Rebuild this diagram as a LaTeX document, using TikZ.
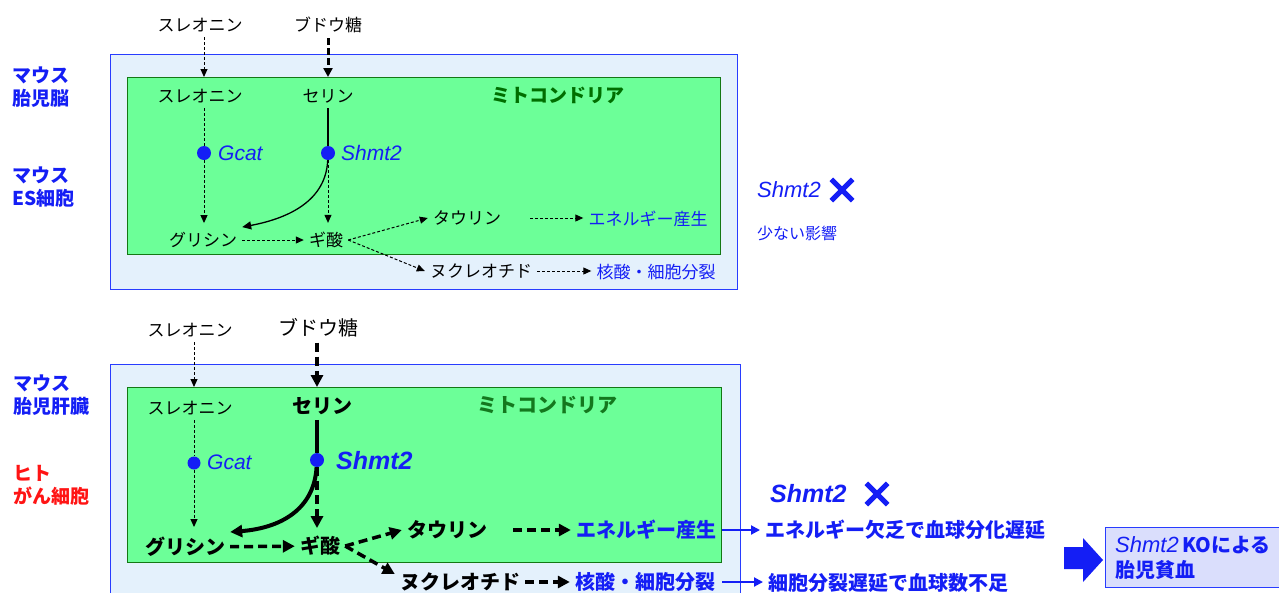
\documentclass[tikz,border=0pt]{standalone}
\usepackage{fontspec}
\setmainfont{Noto Sans CJK JP}
\newfontfamily\hv{Liberation Sans}
\usetikzlibrary{arrows.meta}
\definecolor{tblue}{RGB}{20,30,245}
\definecolor{boxblue}{RGB}{40,60,255}
\definecolor{lightbg}{RGB}{228,241,252}
\definecolor{mitogreen}{RGB}{108,255,152}
\definecolor{mitoedge}{RGB}{20,120,20}
\definecolor{mitotext}{RGB}{0,110,0}
\definecolor{mitotextB}{RGB}{20,120,30}
\definecolor{lav}{RGB}{218,222,252}
\definecolor{tred}{RGB}{255,20,20}
\tikzset{
  txt/.style={inner sep=5pt, font=\fontsize{17}{20}\selectfont},
  txtL/.style={inner sep=5pt, font=\fontsize{20}{24}\selectfont},
  txtB/.style={inner sep=5pt, font=\bfseries\fontsize{20}{24}\selectfont},
  side/.style={inner sep=0pt, anchor=west, font=\bfseries\fontsize{19}{22}\selectfont, text=tblue},
  outerbox/.style={draw=boxblue, fill=lightbg, line width=1.3pt, anchor=north west, inner sep=0},
  greenbox/.style={draw=mitoedge, fill=mitogreen, line width=1.2pt, anchor=north west, inner sep=0},
  dot/.style={circle, fill=tblue, inner sep=0, minimum size=14pt},
  tdash/.style={line width=1pt, dash pattern=on 3pt off 2pt, -{Triangle[length=8pt,width=7pt]}},
  tdashplain/.style={line width=1pt, dash pattern=on 3pt off 2pt},
  mdash/.style={line width=3pt, dash pattern=on 7pt off 3pt, -{Triangle[length=9pt,width=9pt]}},
  Tdash/.style={line width=3.5pt, dash pattern=on 9pt off 5pt, -{Triangle[length=12pt,width=12pt]}},
  solidarr/.style={line width=1.3pt, -{Triangle[length=9pt,width=8pt]}},
  thickarr/.style={line width=4pt, -{Triangle[length=12pt,width=12pt]}},
  bluearr/.style={line width=2pt, draw=tblue, -{Triangle[length=9pt,width=9pt]}},
  xmark/.style={line width=5pt, draw=tblue},
}
\begin{document}
\begin{tikzpicture}[x=1pt,y=-1pt]
\useasboundingbox (0,0) rectangle (1279,592);
\clip (0,0) rectangle (1279,592);

%% ---------------- top panel ----------------
\node[outerbox, minimum width=627pt, minimum height=235pt] (outA) at (110,54) {};
\node[greenbox, minimum width=593pt, minimum height=177pt] (mitoA) at (127,77) {};

\node[txt] (thrA) at (200,25) {スレオニン};
\node[txt] (gluA) at (328,25) {ブドウ糖};
\node[txt] (thrB) at (200,96) {スレオニン};
\node[txt] (serA) at (328,96) {セリン};
\node[inner sep=0, font=\bfseries\fontsize{19}{22}\selectfont, text=mitotext] (mtA) at (558,95) {ミトコンドリア};
\node[dot] (gcA) at (204,153) {};
\node[inner sep=0, anchor=west, font=\hv\itshape\fontsize{21}{24}\selectfont, text=tblue] (gcAl) at (218,153) {Gcat};
\node[dot] (shA) at (328,153) {};
\node[inner sep=0, anchor=west, font=\hv\itshape\fontsize{21}{24}\selectfont, text=tblue] (shAl) at (341,153) {Shmt2};
\node[txt] (glyA) at (203,240) {グリシン};
\node[txt] (forA) at (326,240) {ギ酸};
\node[txt] (tauA) at (467,218) {タウリン};
\node[txt] (nucA) at (481,271) {ヌクレオチド};
\node[txt, text=tblue] (eneA) at (648,219) {エネルギー産生};
\node[txt, text=tblue] (divA) at (656,272) {核酸・細胞分裂};

\node[side] (m1) at (12,75) {マウス};
\node[side] (m2) at (12,98) {胎児脳};
\node[side] (m3) at (12,175) {マウス};
\node[side] (m4) at (12,198) {ES細胞};

\node[inner sep=0, anchor=west, font=\hv\itshape\fontsize{22}{26}\selectfont, text=tblue] (shR) at (757,190) {Shmt2};
\node[minimum size=21pt, inner sep=0] (xA) at (842,190) {};
\draw[xmark] (xA.north west) -- (xA.south east) (xA.north east) -- (xA.south west);
\node[inner sep=0, anchor=west, font=\fontsize{16}{19}\selectfont, text=tblue] (lessA) at (757,233) {少ない影響};

\draw[tdash] (thrA.south -| gcA) -- (gcA |- mitoA.north);
\draw[mdash] (gluA.south -| shA) -- (shA |- mitoA.north);
\draw[tdashplain] (thrB.south -| gcA) -- (gcA);
\draw[tdash, shorten >=4pt] (gcA) -- (gcA |- glyA.north);
\draw[line width=1.3pt] (serA.south -| shA) -- (shA);
\draw[solidarr] (shA) .. controls (326,200) and (290,218) .. (glyA.north east);
\draw[tdash, shorten >=4pt] (shA) -- (shA |- forA.north);
\draw[tdash] (glyA) -- (forA);
\draw[tdash] (forA.east) -- (tauA.west);
\draw[tdash] (forA.east) -- (nucA.west);
\draw[tdash] ([xshift=24pt]tauA.east) -- (eneA.west |- tauA.east);
\draw[tdash] (nucA.east) -- (divA.west |- nucA.east);

%% ---------------- bottom panel ----------------
\node[outerbox, minimum width=630pt, minimum height=250pt] (outB) at (110,364) {};
\node[greenbox, minimum width=594pt, minimum height=175pt] (mitoB) at (127,387) {};

\node[txt] (thrC) at (190,330) {スレオニン};
\node[txtL] (gluB) at (318,328) {ブドウ糖};
\node[txt] (thrD) at (190,408) {スレオニン};
\node[txtB] (serB) at (322,406) {セリン};
\node[inner sep=0, font=\bfseries\fontsize{20}{24}\selectfont, text=mitotextB] (mtB) at (547,405) {ミトコンドリア};
\node[dot, minimum size=13pt] (gcB) at (194,463) {};
\node[inner sep=0, anchor=west, font=\hv\itshape\fontsize{21}{24}\selectfont, text=tblue] (gcBl) at (207,462) {Gcat};
\node[dot] (shB) at (317,460) {};
\node[inner sep=0, anchor=west, font=\hv\bfseries\itshape\fontsize{25}{28}\selectfont, text=tblue] (shBl) at (336,461) {Shmt2};
\node[txtB] (glyB) at (185,547) {グリシン};
\node[txtB] (forB) at (320,546) {ギ酸};
\node[txtB] (tauB) at (447,530) {タウリン};
\node[txtB] (nucB) at (460,582) {ヌクレオチド};
\node[txtB, text=tblue] (eneB) at (646,530) {エネルギー産生};
\node[txtB, text=tblue] (divB) at (645,582) {核酸・細胞分裂};
\node[txtB, text=tblue, anchor=west] (defA) at (760,530) {エネルギー欠乏で血球分化遅延};
\node[txtB, text=tblue, anchor=west] (defB) at (763,583) {細胞分裂遅延で血球数不足};

\node[side] (m5) at (13,383) {マウス};
\node[side] (m6) at (13,406) {胎児肝臓};
\node[side, text=tred] (h1) at (13,473) {ヒト};
\node[side, text=tred] (h2) at (13,496) {がん細胞};

\node[inner sep=0, anchor=west, font=\hv\bfseries\itshape\fontsize{25}{28}\selectfont, text=tblue] (shR2) at (770,494) {Shmt2};
\node[minimum size=21pt, inner sep=0] (xB) at (877,494) {};
\draw[xmark] (xB.north west) -- (xB.south east) (xB.north east) -- (xB.south west);

\fill[tblue] (1064,547) -- (1083,547) -- (1083,538) -- (1103,560) -- (1083,582) -- (1083,569) -- (1064,569) -- cycle;
\node[draw=boxblue, fill=lav, line width=1.3pt, anchor=north west, inner sep=0, minimum width=200pt, minimum height=60pt] (koBox) at (1105,527) {};
\node[inner sep=0, anchor=west, font=\bfseries\fontsize{20}{24}\selectfont, text=tblue] (ko1) at (1115,545) {{\hv\mdseries\itshape\fontsize{22}{26}\selectfont Shmt2}\,KOによる};
\node[inner sep=0, anchor=west, font=\bfseries\fontsize{20}{24}\selectfont, text=tblue] (ko2) at (1115,570) {胎児貧血};

\draw[tdash] (thrC.south -| gcB) -- (gcB |- mitoB.north);
\draw[Tdash] (gluB.south -| shB) -- (shB |- mitoB.north);
\draw[tdashplain] (thrD.south -| gcB) -- (gcB);
\draw[tdash, shorten >=5pt] (gcB) -- (gcB |- glyB.north);
\draw[line width=4pt] (serB.south -| shB) -- (shB);
\draw[thickarr] (shB) .. controls (314,510) and (280,528) .. (glyB.north east);
\draw[Tdash, shorten >=3pt] (shB) -- (shB |- forB.north);
\draw[Tdash] (glyB) -- (forB);
\draw[Tdash] (forB.east) -- (tauB.west);
\draw[Tdash] (forB.east) -- ([yshift=8pt]nucB.west);
\draw[Tdash] ([xshift=21pt]tauB.east) -- (eneB.west);
\draw[Tdash] (nucB.east) -- (divB.west);
\draw[bluearr] (eneB.east -| mitoB.east) -- (defA.west |- eneB.east);
\draw[bluearr] (divB.east -| mitoB.east) -- (defB.west |- divB.east);
\end{tikzpicture}
\end{document}
